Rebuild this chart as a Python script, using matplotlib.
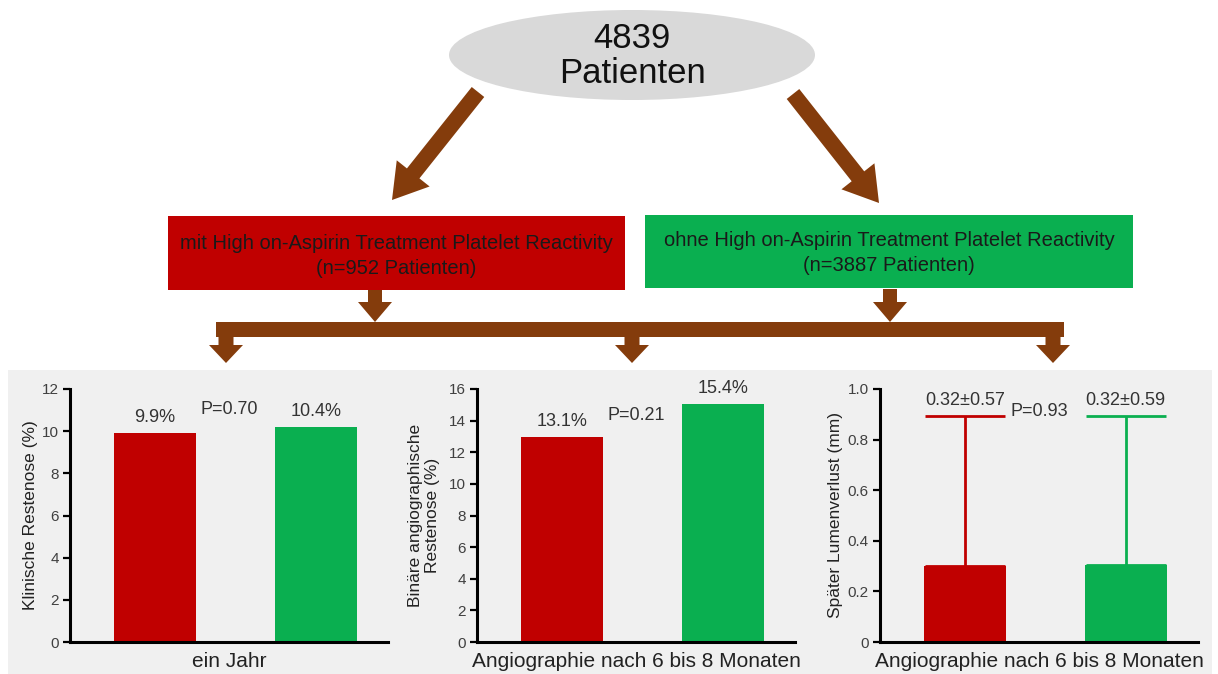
import matplotlib.pyplot as plt
import numpy as np
from matplotlib.patches import Ellipse, Polygon, Rectangle

plt.rcParams["font.family"] = ["Liberation Sans", "DejaVu Sans"]

RED = "#c00000"
GREEN = "#0aaf50"
BROWN = "#843c0c"
PANEL = "#f0f0f0"

# data
groups = ["mit HAPR", "ohne HAPR"]
clinical_restenosis = [9.9, 10.2]
clinical_labels = ["9.9%", "10.4%"]
binary_restenosis = [12.95, 15.05]
binary_labels = ["13.1%", "15.4%"]
late_loss_mean = [0.30, 0.305]
late_loss_err = [0.595, 0.59]
late_loss_labels = ["0.32\u00b10.57", "0.32\u00b10.59"]
p_values = ["P=0.70", "P=0.21", "P=0.93"]
total_patients = "4839\nPatienten"
box_texts = [
    "mit High on-Aspirin Treatment Platelet Reactivity\n(n=952 Patienten)",
    "ohne High on-Aspirin Treatment Platelet Reactivity\n(n=3887 Patienten)",
]

W, H = 1218, 674
fig = plt.figure(figsize=(W / 100, H / 100), dpi=100)

# overlay in pixel coordinates for the flow diagram
ov = fig.add_axes([0, 0, 1, 1], zorder=0)
ov.set_xlim(0, W)
ov.set_ylim(H, 0)
ov.axis("off")


def arrow(x0, y0, x1, y1, w, hw, hl):
    d = np.array([x1 - x0, y1 - y0], dtype=float)
    L = np.hypot(*d)
    u = d / L
    n = np.array([-u[1], u[0]])
    p0 = np.array([x0, y0], dtype=float)
    b = p0 + u * (L - hl)
    pts = [p0 + n * w / 2, b + n * w / 2, b + n * hw / 2, np.array([x1, y1]),
           b - n * hw / 2, b - n * w / 2, p0 - n * w / 2]
    ov.add_patch(Polygon(pts, closed=True, color=BROWN, lw=0))


ov.add_patch(Ellipse((632, 55), 366, 90, color="#d9d9d9", lw=0))
ov.text(632, 56, total_patients, ha="center", va="center", fontsize=25,
        color="#111111", linespacing=1.1)

arrow(478, 92, 392, 200, 16, 42, 34)
arrow(793, 94, 879, 203, 16, 42, 34)

ov.add_patch(Rectangle((168, 216), 457, 74, color=RED, lw=0))
ov.add_patch(Rectangle((645, 215), 488, 73, color=GREEN, lw=0))
ov.text(396, 256, box_texts[0], ha="center", va="center", fontsize=14.5,
        color="#1a1a1a", linespacing=1.35)
ov.text(889, 253, box_texts[1], ha="center", va="center", fontsize=14.5,
        color="#1a1a1a", linespacing=1.35)

arrow(375, 290, 375, 322, 14, 34, 20)
arrow(890, 289, 890, 322, 14, 34, 20)
ov.add_patch(Rectangle((216, 322), 848, 15, color=BROWN, lw=0))
for xa in (226, 632, 1053):
    arrow(xa, 336, xa, 363, 15, 34, 18)

ov.add_patch(Rectangle((8, 370), 1204, 304, color=PANEL, lw=0))

# bar charts
panels = [
    dict(left=70, vals=clinical_restenosis, labels=clinical_labels, err=None,
         ymax=12, ylabel="Klinische Restenose (%)", ylx=-0.10, py=0.917,
         xlabel="ein Jahr"),
    dict(left=477, vals=binary_restenosis, labels=binary_labels, err=None,
         ymax=16, ylabel="Bin\u00e4re angiographische\nRestenose (%)", ylx=-0.115,
         py=0.897, xlabel="Angiographie nach 6 bis 8 Monaten"),
    dict(left=880, vals=late_loss_mean, labels=late_loss_labels, err=late_loss_err,
         ymax=1.0, ylabel="Sp\u00e4ter Lumenverlust (mm)", ylx=-0.115, py=0.913,
         xlabel="Angiographie nach 6 bis 8 Monaten"),
]

x = np.arange(len(groups))
for i, p in enumerate(panels):
    ax = fig.add_axes([p["left"] / W, 32 / H, 318 / W, 253 / H], zorder=1)
    ax.patch.set_alpha(0)
    colors = [RED, GREEN]
    ax.bar(x, p["vals"], width=0.51, color=colors, zorder=2)
    for j in range(len(x)):
        top = p["vals"][j]
        if p["err"] is not None:
            ax.errorbar(x[j], p["vals"][j], yerr=[[0], [p["err"][j]]], fmt="none",
                        ecolor=colors[j], elinewidth=2, capsize=28.5, capthick=2,
                        zorder=1)
            top = p["vals"][j] + p["err"][j]
        ax.annotate(p["labels"][j], (x[j], top), xytext=(0, 5),
                    textcoords="offset points", ha="center", va="bottom",
                    fontsize=13, color="#333333")
    ax.text(0.5, p["py"], p_values[i], transform=ax.transAxes,
            ha="center", va="center", fontsize=13, color="#333333")
    ax.set_xlim(-0.53, 1.45)
    ax.set_ylim(0, p["ymax"])
    if p["ymax"] == 1.0:
        ticks = np.round(np.arange(0, 1.01, 0.2), 1)
        ax.set_yticks(ticks)
        ax.set_yticklabels(["0"] + [f"{t:.1f}" for t in ticks[1:]])
    else:
        ax.set_yticks(np.arange(0, p["ymax"] + 1, 2))
    ax.set_xticks([])
    for s in ("top", "right"):
        ax.spines[s].set_visible(False)
    for s in ("left", "bottom"):
        ax.spines[s].set_linewidth(2.2)
    ax.tick_params(axis="y", length=5, width=1.6, labelsize=11,
                   labelcolor="#404040", pad=3)
    ax.set_ylabel(p["ylabel"], fontsize=12.5, color="#222222", linespacing=1.2)
    ax.yaxis.set_label_coords(p["ylx"], 0.5)
    ax.set_xlabel(p["xlabel"], fontsize=15, color="#222222", labelpad=7)

fig.savefig("out.png", dpi=100)
